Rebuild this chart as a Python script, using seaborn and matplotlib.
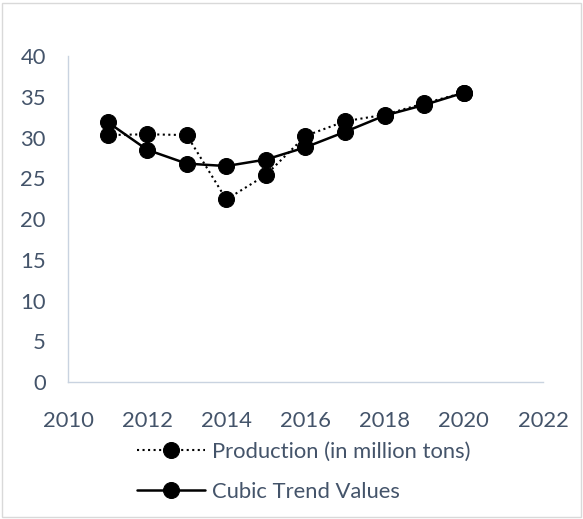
import matplotlib
matplotlib.use("Agg")
import matplotlib.pyplot as plt
from matplotlib.patches import Rectangle
import seaborn as sns

years = [2011, 2012, 2013, 2014, 2015, 2016, 2017, 2018, 2019, 2020]
production = [30.3, 30.4, 30.3, 22.4, 25.4, 30.2, 32.0, 32.8, 34.2, 35.5]
cubic_trend = [31.9, 28.5, 26.8, 26.5, 27.3, 28.8, 30.7, 32.7, 34.0, 35.5]

x_ticks = [2010, 2012, 2014, 2016, 2018, 2020, 2022]
y_ticks = [0, 5, 10, 15, 20, 25, 30, 35, 40]

sns.set_theme(style="white")
plt.rcParams['font.family'] = ['Lato', 'DejaVu Sans']

text_col = '#44546A'
spine_col = '#c9d3e0'

fig = plt.figure(figsize=(5.83, 5.19), dpi=100)
ax = fig.add_axes([0.1166, 0.264, 0.8148, 0.628])

sns.lineplot(x=years, y=production, ax=ax, color='black', linestyle=':',
             linewidth=1.5, marker='o', markersize=11.5, markeredgecolor='black',
             label='Production (in million tons)')
sns.lineplot(x=years, y=cubic_trend, ax=ax, color='black', linestyle='-',
             linewidth=1.8, marker='o', markersize=11.5, markeredgecolor='black',
             label='Cubic Trend Values')

ax.set_xlim(2010, 2022)
ax.set_ylim(0, 40)
ax.set_xticks(x_ticks)
ax.set_yticks(y_ticks)
ax.tick_params(axis='both', length=0, labelsize=15.8, colors=text_col)
ax.tick_params(axis='x', pad=21)
ax.tick_params(axis='y', pad=16)
for s in ['top', 'right']:
    ax.spines[s].set_visible(False)
for s in ['left', 'bottom']:
    ax.spines[s].set_color(spine_col)
    ax.spines[s].set_linewidth(1)

leg = ax.legend(loc='center left', bbox_to_anchor=(0.235, 0.0906),
                bbox_transform=fig.transFigure, frameon=False, borderpad=0,
                borderaxespad=0, fontsize=15.8, handlelength=3.1,
                labelspacing=0.9, handletextpad=0.33)
for t in leg.get_texts():
    t.set_color(text_col)

fig.patches.append(Rectangle((0.004, 0.004), 0.992, 0.99, transform=fig.transFigure,
                             fill=False, edgecolor='#d9d9d9', linewidth=1))

fig.savefig('out.png', dpi=100)
